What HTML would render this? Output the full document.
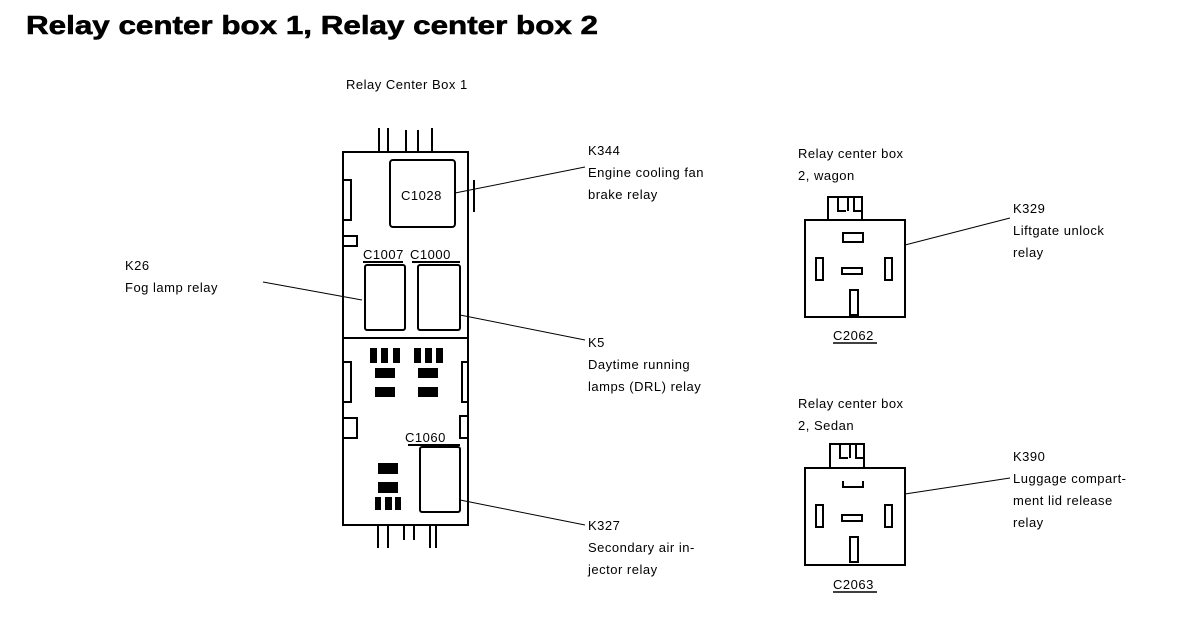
<!DOCTYPE html>
<html><head><meta charset="utf-8"><style>
html,body{margin:0;padding:0;background:#fff;width:1184px;height:638px;overflow:hidden}
svg{display:block}
text{font-family:"Liberation Sans",Arial,sans-serif;fill:#000}
.t{font-size:13px;letter-spacing:0.5px}
</style></head><body>
<svg width="1184" height="638" viewBox="0 0 1184 638" xmlns="http://www.w3.org/2000/svg">
<text x="26" y="34" font-size="26" font-weight="bold" textLength="572" lengthAdjust="spacingAndGlyphs" stroke="#000" stroke-width="0.6">Relay center box 1, Relay center box 2</text>
<text class="t" x="346" y="89">Relay Center Box 1</text>
<g fill="none" stroke="#000" stroke-width="2">
<rect x="343" y="152" width="125" height="373"/>
<path d="M379 152V128M388 152V128M406 152V130M418 152V130M432 152V128"/>
<path d="M378 525V548M388 525V548M404 525V540M414 525V540M430 525V548M436 525V548"/>
<line x1="343" y1="338" x2="468" y2="338"/>
<path d="M343 180h8v40h-8M343 236h14v10h-14M343 362h8v40h-8M343 418h14v20h-14M468 362h-6v40h6M468 416h-8v22h8M474 180v32"/>
<rect x="390" y="160" width="65" height="67" rx="3"/>
<rect x="365" y="265" width="40" height="65" rx="2"/>
<rect x="418" y="265" width="42" height="65" rx="2"/>
<rect x="420" y="447" width="40" height="65" rx="2"/>
<path d="M363 262h40M412 262h48M408 445h52"/>
<path d="M455 193L585 167M263 282L362 300M460 315L585 340M460 500L585 525M905 245L1010 218M905 494L1010 478" stroke-width="1"/>
<rect x="805" y="220" width="100" height="97"/>
<path d="M828 220V197h34v23M838 197v14h8M848 197v14M854 197v14h8"/>
<rect x="843" y="233" width="20" height="9"/>
<rect x="816" y="258" width="7" height="22"/>
<rect x="842" y="268" width="20" height="6"/>
<rect x="885" y="258" width="7" height="22"/>
<rect x="850" y="290" width="8" height="25"/>
<rect x="805" y="468" width="100" height="97"/>
<path d="M830 468V444h34v24M840 444v14h8M850 444v14M856 444v14h8"/>
<path d="M843 481v6h20v-6"/>
<rect x="816" y="505" width="7" height="22"/>
<rect x="842" y="515" width="20" height="6"/>
<rect x="885" y="505" width="7" height="22"/>
<rect x="850" y="537" width="8" height="25"/>
</g>
<g fill="#000">
<rect x="370" y="348" width="7" height="15"/><rect x="381" y="348" width="7" height="15"/><rect x="393" y="348" width="7" height="15"/>
<rect x="414" y="348" width="7" height="15"/><rect x="425" y="348" width="7" height="15"/><rect x="436" y="348" width="7" height="15"/>
<rect x="375" y="368" width="20" height="10"/><rect x="375" y="387" width="20" height="10"/>
<rect x="418" y="368" width="20" height="10"/><rect x="418" y="387" width="20" height="10"/>
<rect x="378" y="463" width="20" height="11"/><rect x="378" y="482" width="20" height="11"/>
<rect x="375" y="497" width="6" height="13"/><rect x="385" y="497" width="7" height="13"/><rect x="395" y="497" width="6" height="13"/>
</g>
<text class="t" x="401" y="200">C1028</text>
<text class="t" x="363" y="259">C1007</text>
<text class="t" x="410" y="259">C1000</text>
<text class="t" x="405" y="442">C1060</text>
<text class="t" x="588" y="155">K344</text>
<text class="t" x="588" y="177">Engine cooling fan</text>
<text class="t" x="588" y="199">brake relay</text>
<text class="t" x="125" y="270">K26</text>
<text class="t" x="125" y="292">Fog lamp relay</text>
<text class="t" x="588" y="347">K5</text>
<text class="t" x="588" y="369">Daytime running</text>
<text class="t" x="588" y="391">lamps (DRL) relay</text>
<text class="t" x="588" y="530">K327</text>
<text class="t" x="588" y="552">Secondary air in-</text>
<text class="t" x="588" y="574">jector relay</text>
<text class="t" x="798" y="158">Relay center box</text>
<text class="t" x="798" y="180">2, wagon</text>
<text class="t" x="1013" y="213">K329</text>
<text class="t" x="1013" y="235">Liftgate unlock</text>
<text class="t" x="1013" y="257">relay</text>
<text class="t" x="833" y="340">C2062</text>
<line x1="833" y1="343" x2="877" y2="343" stroke="#000" stroke-width="1.5"/>
<text class="t" x="798" y="408">Relay center box</text>
<text class="t" x="798" y="430">2, Sedan</text>
<text class="t" x="1013" y="461">K390</text>
<text class="t" x="1013" y="483">Luggage compart-</text>
<text class="t" x="1013" y="505">ment lid release</text>
<text class="t" x="1013" y="527">relay</text>
<text class="t" x="833" y="589">C2063</text>
<line x1="833" y1="592" x2="877" y2="592" stroke="#000" stroke-width="1.5"/>
</svg>
</body></html>
